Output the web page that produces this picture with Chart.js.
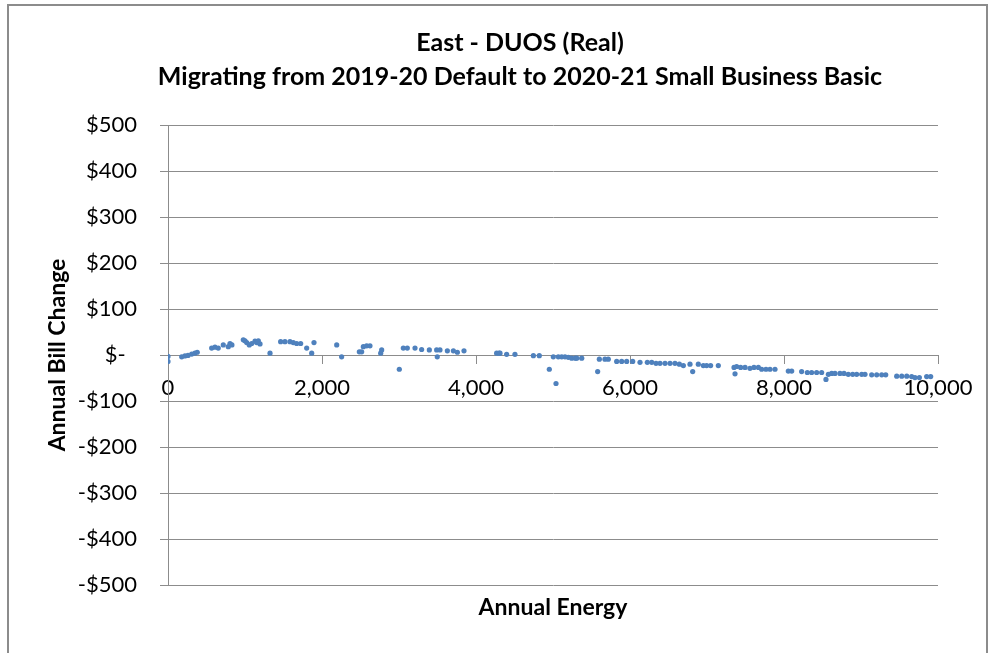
<!DOCTYPE html>
<html lang="en">
<head>
<meta charset="UTF-8">
<title>East - DUOS (Real)</title>
<script src="https://cdn.jsdelivr.net/npm/chart.js@4.4.1/dist/chart.umd.min.js"></script>
<style>
  body { margin: 0; background: #fff; }
  #frame { position: absolute; left: 7px; top: 4px; width: 977px; height: 700px; border: 2px solid #8c8c8c; }
  #wrap { position: absolute; left: 0; top: 0; width: 989px; height: 653px; }
</style>
</head>
<body>
<div id="frame"></div>
<div id="wrap"><canvas id="chart" width="989" height="653"></canvas></div>
<script>
// annual energy (x) and annual bill change in $ (y)
const energy = [
  0, 0, 178, 220, 260, 308, 350, 380, 567, 610, 653, 718, 783, 805, 830,
  978, 1000, 1022, 1056, 1087, 1130, 1152, 1173, 1195, 1325, 1463, 1519, 1584, 1627, 1671,
  1723, 1801, 1866, 1896, 2191, 2255, 2485, 2515, 2537, 2580, 2623, 2762, 2775, 3004, 3056,
  3108, 3208, 3294, 3394, 3489, 3497, 3532, 3628, 3706, 3758, 3844, 4268, 4300, 4312, 4398,
  4506, 4745, 4822, 4952, 5004, 5039, 5069, 5113, 5156, 5199, 5243, 5290, 5308, 5373, 5580,
  5602, 5675, 5718, 5827, 5892, 5957, 6035, 6130, 6225, 6282, 6338, 6390, 6455, 6520, 6584,
  6641, 6693, 6779, 6814, 6887, 6952, 6995, 7047, 7147, 7351, 7364, 7385, 7437, 7494, 7558,
  7610, 7667, 7710, 7766, 7818, 7883, 8056, 8100, 8229, 8303, 8359, 8424, 8489, 8545, 8576,
  8619, 8662, 8727, 8779, 8835, 8892, 8944, 9009, 9052, 9139, 9204, 9269, 9321, 9464, 9529,
  9594, 9658, 9701, 9758, 9853, 9905
]
const billChange = [
  -3, -14, -4, -2, -1, 2, 4, 6, 15, 17, 15, 22, 18, 25, 22,
  33, 31, 27, 22, 25, 30, 27, 31, 24, 4, 29, 29, 29, 27, 25,
  25, 15, 4, 27, 22, -4, 7, 7, 18, 20, 20, 4, 11, -31, 15,
  15, 15, 12, 11, 11, -4, 11, 9, 9, 6, 9, 4, 4, 4, 1.5,
  1.5, -1.5, -1.5, -31, -4, -62, -4, -4, -4, -5, -7, -7, -7, -7, -36,
  -9, -9, -9, -14, -14, -14, -14, -16, -16, -16, -18, -18, -18, -18, -18,
  -20, -23, -20, -36, -20, -23, -23, -23, -23, -27, -41, -25, -27, -27, -29,
  -27, -27, -31, -31, -31, -31, -35, -35, -36, -38, -38, -38, -38, -53, -42,
  -40, -40, -40, -40, -42, -42, -42, -42, -42, -43, -43, -43, -43, -46, -46,
  -46, -47, -49, -49, -47, -47
]
const titleLines = ["East - DUOS (Real)", "Migrating from 2019-20 Default to 2020-21 Small Business Basic"]
const xTitle = "Annual Energy"
const yTitle = "Annual Bill Change"

const points = energy.map((e, i) => ({x: e, y: billChange[i]}))
const gridGray = "#8c8c8c"
const fam = "Lato, 'Open Sans', sans-serif"

function dollars(v) {
  if (v === 0) return "$-  "
  return (v < 0 ? "-$" : "$") + Math.abs(v)
}

new Chart("chart", {
  type: "scatter",
  data: {
    datasets: [{
      data: points,
      backgroundColor: "#4F81BD",
      borderColor: "#4F81BD",
      pointRadius: 2.6,
      pointBorderWidth: 0
    }]
  },
  options: {
    responsive: false,
    animation: false,
    layout: {padding: {left: 51, right: 0, top: 0, bottom: 0}},
    plugins: {
      legend: {display: false},
      tooltip: {enabled: false},
      title: {
        display: true,
        text: titleLines,
        color: "#000",
        font: {family: fam, size: 25, weight: "bold", lineHeight: 1.36},
        padding: {top: 26, bottom: 31}
      }
    },
    scales: {
      x: {
        type: "linear",
        position: {y: 0},
        min: 0, max: 10000,
        ticks: {
          stepSize: 2000,
          color: "#000",
          font: {family: fam, size: 22},
          padding: 12,
          maxRotation: 0,
          callback: v => v.toLocaleString("en-US")
        },
        grid: {drawOnChartArea: false, tickLength: 8, color: gridGray, tickColor: gridGray},
        border: {color: gridGray, width: 1}
      },
      x2: {
        type: "linear",
        position: "bottom",
        min: 0, max: 10000,
        ticks: {display: false},
        grid: {display: false},
        border: {display: false},
        title: {
          display: true,
          text: xTitle,
          color: "#000",
          font: {family: fam, size: 23, weight: "bold"},
          padding: {top: 0, bottom: 32}
        },
        afterFit: s => { s.height = 68 }
      },
      y: {
        min: -500, max: 500,
        ticks: {
          stepSize: 100,
          color: "#000",
          font: {family: fam, size: 22},
          padding: 23,
          callback: v => dollars(v)
        },
        grid: {color: gridGray, tickColor: gridGray, tickLength: 8},
        border: {color: gridGray, width: 1},
        title: {
          display: true,
          text: yTitle,
          color: "#000",
          font: {family: fam, size: 23, weight: "bold", lineHeight: 0.6},
          padding: {top: 0, bottom: 0}
        },
        afterFit: s => { s.width = 117 }
      },
      y2: {
        type: "linear",
        position: "right",
        ticks: {display: false},
        grid: {display: false},
        border: {display: false},
        afterFit: s => { s.width = 51 }
      }
    }
  }
})
</script>
</body>
</html>
